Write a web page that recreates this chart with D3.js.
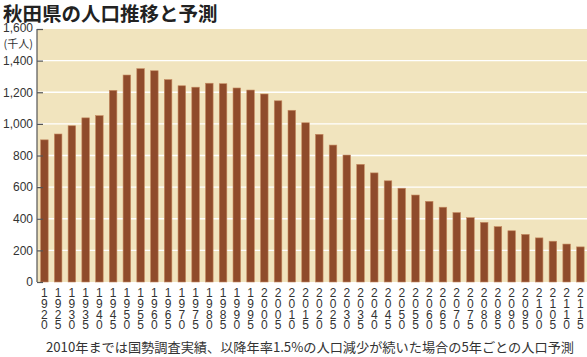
<!DOCTYPE html>
<html><head><meta charset="utf-8">
<script src="https://cdn.jsdelivr.net/npm/d3@7"></script>
<style>
body{margin:0;background:#fff;}
svg{display:block;}
</style></head>
<body>
<svg id="chart" width="587" height="357"></svg>
<script>
const years = [1920,1925,1930,1935,1940,1945,1950,1955,1960,1965,1970,1975,1980,1985,1990,1995,2000,2005,2010,
  2015,2020,2025,2030,2035,2040,2045,2050,2055,2060,2065,2070,2075,2080,2085,2090,2095,2100,2105,2110,2115];
const population = [899,936,988,1038,1052,1212,1309,1349,1336,1280,1241,1232,1257,1254,1227,1214,1189,1146,1086,
  1007,934,866,803,744,690,640,593,550,510,473,439,407,377,350,324,301,279,258,240,222];
const yTicks = [0,200,400,600,800,1000,1200,1400,1600];
const title = "秋田県の人口推移と予測";
const unitLabel = "(千人)";
const note = "2010年までは国勢調査実績、以降年率1.5%の人口減少が続いた場合の5年ごとの人口予測";

const svg = d3.select("#chart");
const pLeft = 37, pRight = 587, pTop = 29, pBottom = 282;

const x = d3.scaleBand().domain(years).range([pLeft + 0.6, pRight + 0.2]).paddingInner(0.45).paddingOuter(0.22);
const y = d3.scaleLinear().domain([0,1600]).range([pBottom, pTop]);

// title
svg.append("text").attr("x",3).attr("y",20.5)
  .attr("font-family","'Noto Sans CJK JP'").attr("font-weight","bold").attr("font-size",19.5)
  .attr("fill","#222").text(title);

// plot background
svg.append("rect").attr("x",pLeft).attr("y",pTop).attr("width",pRight-pLeft).attr("height",pBottom-pTop).attr("fill","#f1e4be");

// gridlines
svg.append("g").selectAll("line").data(yTicks.filter(d=>d>0 && d<1600)).join("line")
  .attr("x1",pLeft).attr("x2",pRight).attr("y1",d=>y(d)).attr("y2",d=>y(d))
  .attr("stroke","#fff").attr("stroke-width",1.4);

// bars
svg.append("g").selectAll("rect").data(years).join("rect")
  .attr("x",(d)=>x(d)).attr("width",x.bandwidth())
  .attr("y",(d,i)=>y(population[i])).attr("height",(d,i)=>pBottom - y(population[i]))
  .attr("fill","#8f4b2b").attr("stroke","#c58a60").attr("stroke-width",0.6);

// y axis
const yAxis = d3.axisLeft(y).tickValues(yTicks).tickSize(-6).tickPadding(10)
  .tickFormat(d3.format(","));
const ga = svg.append("g").attr("transform",`translate(${pLeft},0)`).call(yAxis);
ga.select(".domain").attr("stroke","#555").attr("stroke-width",1.2).attr("d",`M0,${pTop}H0V${pBottom}`);
ga.selectAll(".tick line").attr("stroke","#555").attr("stroke-width",1.2);
ga.selectAll(".tick text").attr("font-family","'Liberation Sans'").attr("font-size",12).attr("fill","#333")
  .attr("x",-4);
ga.selectAll(".tick text").filter(d=>d===1600).attr("dy","0.2em");

// unit label
svg.append("text").attr("x",33).attr("y",48).attr("text-anchor","end")
  .attr("font-family","'Noto Sans CJK JP'").attr("font-size",11).attr("fill","#333").text(unitLabel);

// x labels (vertical digits)
const gx = svg.append("g");
years.forEach(yr=>{
  const cx = x(yr) + x.bandwidth()/2;
  const t = gx.append("text").attr("x",cx).attr("y",297).attr("text-anchor","middle")
    .attr("font-family","'Liberation Sans'").attr("font-size",12).attr("fill","#333");
  String(yr).split("").forEach((c,i)=>{
    t.append("tspan").attr("x",cx).attr("dy", i===0 ? 0 : 10.8).text(c);
  });
});

// footnote
svg.append("text").attr("x",310).attr("y",351.5).attr("text-anchor","middle")
  .attr("font-family","'Noto Sans CJK JP'").attr("font-size",13).attr("fill","#333")
  .attr("textLength",528).attr("lengthAdjust","spacingAndGlyphs").text(note);
</script>
</body></html>
